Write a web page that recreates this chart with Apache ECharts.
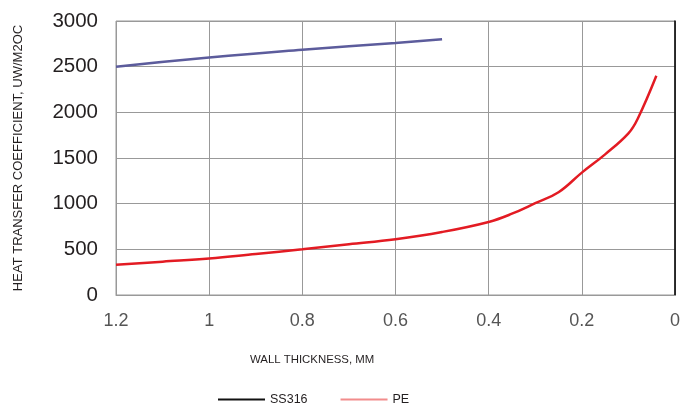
<!DOCTYPE html>
<html>
<head>
<meta charset="utf-8">
<script src="https://cdn.jsdelivr.net/npm/echarts@6/dist/echarts.min.js"></script>
<style>html,body{margin:0;padding:0;background:#fff;}#c{width:683px;height:405px;}</style>
</head>
<body>
<div id="c"></div>
<script>
var xTicks = [1.2, 1, 0.8, 0.6, 0.4, 0.2, 0];
var yTicks = [0, 500, 1000, 1500, 2000, 2500, 3000];
var ss316X = [1.2, 1.0, 0.8, 0.6, 0.5];
var ss316Y = [2500, 2600, 2685, 2760, 2800];
var peX = [1.2, 1.1, 1.0, 0.9, 0.8, 0.7, 0.6, 0.5, 0.4, 0.35, 0.3, 0.25, 0.2, 0.15, 0.1, 0.08, 0.04];
var peY = [330, 365, 400, 450, 500, 555, 610, 690, 800, 890, 1005, 1125, 1340, 1540, 1770, 1930, 2400];

function pairs(xs, ys) { return xs.map(function (x, i) { return [x, ys[i]]; }); }

var chart = echarts.init(document.getElementById('c'), null, {renderer: 'canvas'});
chart.setOption({
  animation: false,
  grid: {left: 116, right: 4, top: 21, bottom: 110, show: true, borderColor: '#999', borderWidth: 1},
  xAxis: {
    type: 'value', min: 0, max: 1.2, interval: 0.2, inverse: true,
    axisLine: {lineStyle: {color: '#999', width: 1}},
    axisTick: {show: false},
    axisLabel: {fontFamily: 'Liberation Sans, Arial', fontSize: 18, color: '#555', margin: 17,
      formatter: function (v) { return String(Math.round(v * 10) / 10); }},
    splitLine: {show: true, lineStyle: {color: '#999', width: 1}}
  },
  yAxis: {
    type: 'value', min: 0, max: 3000, interval: 500,
    name: 'HEAT TRANSFER COEFFICIENT, UW/M2OC', nameLocation: 'middle', nameGap: 91,
    nameTextStyle: {fontFamily: 'Liberation Sans, Arial', fontSize: 13, color: '#231f20'},
    axisLine: {show: true, lineStyle: {color: '#000', width: 1.5}},
    axisTick: {show: false},
    axisLabel: {fontFamily: 'Liberation Sans, Arial', fontSize: 20.5, color: '#231f20', margin: 18,
      formatter: function (v) { return String(v); }},
    splitLine: {show: true, lineStyle: {color: '#999', width: 1}}
  },
  legend: {
    left: 213, top: 388, itemWidth: 47, itemHeight: 2, itemGap: 33,
    textStyle: {fontFamily: 'Liberation Sans, Arial', fontSize: 12.5, color: '#231f20'},
    data: [
      {name: 'SS316', icon: 'rect', itemStyle: {color: '#111'}},
      {name: 'PE', icon: 'rect', itemStyle: {color: '#f28c8c'}}
    ]
  },
  graphic: [{
    type: 'text', left: 250, top: 354,
    style: {text: 'WALL THICKNESS, MM', font: '11.4px "Liberation Sans", Arial', fill: '#231f20'}
  }],
  series: [
    {name: 'SS316', type: 'line', showSymbol: false, smooth: true, data: pairs(ss316X, ss316Y),
      lineStyle: {color: '#5c5c9c', width: 2.5}, itemStyle: {color: '#5c5c9c'}},
    {name: 'PE', type: 'line', showSymbol: false, smooth: 0.4, data: pairs(peX, peY),
      lineStyle: {color: '#e31b23', width: 2.5}, itemStyle: {color: '#e31b23'}}
  ]
});
</script>
</body>
</html>
